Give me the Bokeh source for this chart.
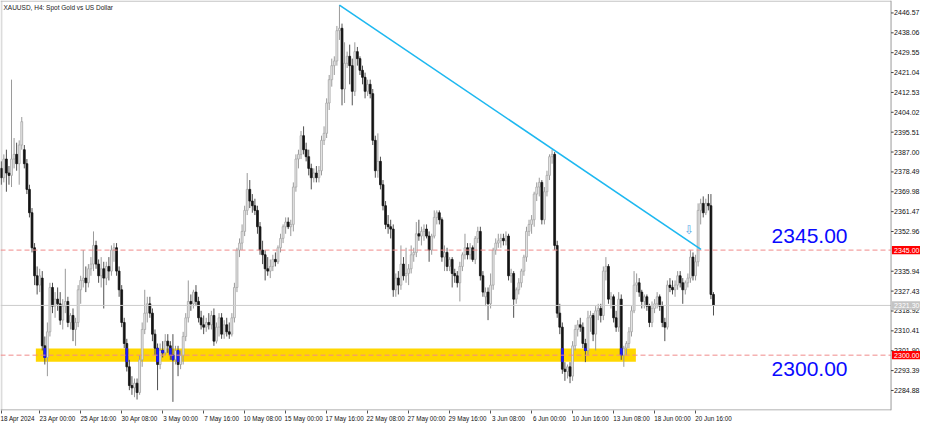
from bokeh.plotting import figure
from bokeh.models import Range1d, FixedTicker, Label, ColumnDataSource
from bokeh.core.properties import value
from bokeh.embed import file_html
from bokeh.resources import INLINE

# ---------------- data (XAUUSD H4, bar index 0 = 18 Apr 2024 12:00) ----------------
opens = [
    2380, 2376, 2384,
    2378, 2377, 2384, 2386, 2382, 2390,
    2388, 2382, 2371, 2361, 2346, 2334,
    2330, 2333, 2304, 2299, 2310, 2329,
    2321, 2324, 2322, 2315, 2321, 2323,
    2314, 2317, 2311, 2314, 2328, 2332,
    2333, 2331, 2337, 2339, 2347, 2339,
    2334, 2337, 2333, 2338, 2336, 2345,
    2346, 2336, 2328, 2314, 2305, 2295,
    2287, 2286, 2288, 2284, 2298, 2311,
    2318, 2322, 2318, 2309, 2303, 2296,
    2302, 2301, 2306, 2304, 2300, 2298,
    2302, 2296, 2300, 2308, 2316, 2323,
    2322, 2327, 2323, 2316, 2313, 2312,
    2314, 2313, 2317, 2306, 2312, 2316,
    2309, 2313, 2310, 2309, 2316, 2329,
    2345, 2348, 2353, 2362, 2371, 2366,
    2364, 2362, 2355, 2345, 2343, 2337,
    2336, 2338, 2341, 2340, 2346, 2350,
    2355, 2357, 2355, 2356, 2372, 2384,
    2386, 2394, 2388, 2385, 2380, 2376,
    2378, 2376, 2379, 2392, 2395, 2408,
    2418, 2424, 2426, 2439, 2440, 2414,
    2425, 2428, 2424, 2413, 2430, 2427,
    2422, 2419, 2413, 2416, 2412, 2392,
    2379, 2383, 2373, 2364, 2356, 2355,
    2354, 2328, 2333, 2330, 2339, 2334,
    2335, 2337, 2343, 2344, 2352, 2351,
    2353, 2354, 2351, 2345, 2351, 2359,
    2361, 2358, 2342, 2344, 2338, 2341,
    2335, 2334, 2331, 2338, 2343, 2346,
    2343, 2346, 2341, 2350, 2353, 2334,
    2325, 2327, 2322, 2330, 2345, 2348,
    2349, 2350, 2349, 2351, 2334, 2335,
    2324, 2328, 2331, 2336, 2342, 2353,
    2356, 2358, 2369, 2372, 2374, 2358,
    2370, 2377, 2385, 2386, 2347, 2318,
    2312, 2294, 2293, 2295, 2291, 2304,
    2311, 2313, 2312, 2305, 2302, 2316,
    2317, 2309, 2319, 2320, 2317, 2336,
    2338, 2324, 2325, 2316, 2312, 2324,
    2300, 2303, 2305, 2310, 2319, 2330,
    2331, 2327, 2323, 2325, 2321, 2314,
    2320, 2322, 2325, 2321, 2314, 2312,
    2330, 2329, 2328, 2330, 2334, 2331,
    2328, 2331, 2333, 2342, 2334, 2340,
    2362, 2365, 2361, 2365, 2364, 2326,
]
highs = [
    2383, 2386, 2388,
    2381, 2418, 2393, 2391, 2392, 2402,
    2390, 2384, 2373, 2363, 2348, 2338,
    2337, 2336, 2308, 2314, 2331, 2331,
    2327, 2329, 2327, 2324, 2337, 2325,
    2318, 2320, 2316, 2330, 2334, 2345,
    2338, 2339, 2342, 2353, 2349, 2341,
    2342, 2340, 2340, 2342, 2347, 2348,
    2348, 2338, 2330, 2316, 2307, 2298,
    2291, 2290, 2290, 2300, 2314, 2328,
    2325, 2325, 2320, 2311, 2305, 2305,
    2306, 2309, 2309, 2306, 2309, 2304,
    2304, 2302, 2310, 2318, 2332, 2326,
    2328, 2330, 2325, 2319, 2317, 2316,
    2318, 2319, 2320, 2314, 2318, 2318,
    2315, 2316, 2314, 2318, 2331, 2346,
    2350, 2356, 2364, 2378, 2375, 2369,
    2367, 2364, 2357, 2349, 2345, 2342,
    2341, 2343, 2344, 2347, 2352, 2356,
    2359, 2359, 2358, 2374, 2386, 2388,
    2396, 2398, 2391, 2388, 2382, 2380,
    2381, 2381, 2394, 2398, 2410, 2420,
    2427, 2428, 2441, 2450, 2442, 2434,
    2430, 2433, 2427, 2434, 2432, 2428,
    2424, 2421, 2418, 2418, 2414, 2394,
    2395, 2385, 2375, 2366, 2360, 2358,
    2356, 2335, 2336, 2347, 2342, 2346,
    2339, 2347, 2346, 2357, 2358, 2355,
    2356, 2356, 2353, 2352, 2362, 2362,
    2362, 2359, 2347, 2346, 2342, 2342,
    2337, 2336, 2340, 2344, 2352, 2348,
    2348, 2347, 2351, 2355, 2355, 2336,
    2329, 2329, 2335, 2346, 2350, 2352,
    2352, 2352, 2353, 2352, 2337, 2336,
    2329, 2333, 2337, 2343, 2355, 2358,
    2360, 2370, 2374, 2376, 2375, 2372,
    2379, 2386, 2388, 2387, 2349, 2322,
    2314, 2297, 2296, 2297, 2306, 2313,
    2315, 2316, 2314, 2307, 2319, 2319,
    2318, 2321, 2322, 2322, 2338, 2342,
    2339, 2327, 2326, 2319, 2327, 2326,
    2304, 2306, 2312, 2321, 2336, 2335,
    2333, 2328, 2326, 2326, 2322, 2323,
    2324, 2327, 2326, 2323, 2316, 2332,
    2333, 2332, 2332, 2336, 2336, 2333,
    2332, 2335, 2345, 2344, 2343, 2365,
    2367, 2368, 2367, 2369, 2369, 2327,
]
lows = [
    2373, 2374, 2370,
    2373, 2372, 2380, 2379, 2373, 2388,
    2380, 2369, 2359, 2344, 2330, 2326,
    2327, 2302, 2296, 2291, 2308, 2318,
    2316, 2319, 2313, 2311, 2318, 2312,
    2311, 2306, 2304, 2312, 2322, 2329,
    2327, 2329, 2334, 2336, 2337, 2331,
    2329, 2320, 2330, 2332, 2334, 2340,
    2334, 2325, 2312, 2303, 2293, 2285,
    2283, 2282, 2281, 2283, 2295, 2309,
    2314, 2316, 2306, 2300, 2285, 2294,
    2299, 2300, 2301, 2298, 2280, 2296,
    2291, 2294, 2296, 2306, 2314, 2319,
    2320, 2321, 2314, 2311, 2309, 2310,
    2311, 2311, 2304, 2305, 2308, 2307,
    2307, 2308, 2307, 2308, 2314, 2327,
    2342, 2345, 2351, 2360, 2363, 2361,
    2360, 2352, 2343, 2339, 2332, 2334,
    2333, 2336, 2338, 2339, 2344, 2348,
    2352, 2354, 2351, 2353, 2370, 2380,
    2384, 2386, 2383, 2377, 2371, 2374,
    2374, 2374, 2377, 2390, 2393, 2405,
    2415, 2420, 2424, 2435, 2407, 2408,
    2423, 2416, 2407, 2411, 2424, 2420,
    2416, 2410, 2411, 2410, 2390, 2376,
    2376, 2371, 2362, 2354, 2352, 2350,
    2325, 2325, 2326, 2328, 2332, 2331,
    2330, 2335, 2340, 2342, 2349, 2347,
    2349, 2350, 2340, 2343, 2350, 2356,
    2356, 2340, 2336, 2336, 2336, 2329,
    2331, 2329, 2323, 2336, 2341, 2341,
    2341, 2340, 2339, 2348, 2332, 2325,
    2321, 2315, 2320, 2328, 2343, 2346,
    2346, 2347, 2347, 2332, 2331, 2316,
    2322, 2326, 2329, 2334, 2340, 2351,
    2352, 2355, 2366, 2368, 2356, 2356,
    2368, 2375, 2382, 2345, 2316, 2309,
    2292, 2289, 2290, 2288, 2289, 2302,
    2308, 2310, 2303, 2297, 2300, 2310,
    2306, 2302, 2315, 2314, 2315, 2332,
    2322, 2320, 2314, 2310, 2310, 2298,
    2295, 2300, 2303, 2308, 2318, 2327,
    2325, 2320, 2320, 2319, 2312, 2312,
    2318, 2320, 2319, 2312, 2306, 2311,
    2327, 2326, 2325, 2328, 2329, 2322,
    2326, 2329, 2331, 2332, 2332, 2338,
    2356, 2359, 2360, 2362, 2324, 2317,
]
closes = [
    2376, 2384, 2378,
    2377, 2384, 2386, 2382, 2390, 2400,
    2382, 2371, 2361, 2346, 2334, 2330,
    2334, 2304, 2299, 2310, 2329, 2321,
    2324, 2322, 2315, 2321, 2323, 2314,
    2317, 2311, 2314, 2328, 2332, 2333,
    2331, 2337, 2339, 2347, 2339, 2334,
    2337, 2333, 2338, 2336, 2345, 2346,
    2336, 2328, 2314, 2305, 2295, 2287,
    2286, 2288, 2284, 2298, 2311, 2318,
    2322, 2318, 2309, 2303, 2296, 2302,
    2301, 2306, 2304, 2300, 2298, 2302,
    2296, 2300, 2308, 2316, 2323, 2322,
    2327, 2323, 2316, 2313, 2312, 2314,
    2313, 2317, 2306, 2312, 2316, 2309,
    2313, 2310, 2309, 2316, 2329, 2345,
    2348, 2353, 2362, 2371, 2366, 2364,
    2362, 2355, 2345, 2343, 2337, 2336,
    2338, 2341, 2340, 2346, 2350, 2355,
    2357, 2355, 2356, 2372, 2384, 2386,
    2394, 2388, 2385, 2380, 2376, 2378,
    2376, 2379, 2392, 2395, 2408, 2418,
    2424, 2426, 2439, 2440, 2414, 2425,
    2428, 2424, 2413, 2430, 2427, 2422,
    2419, 2413, 2416, 2412, 2392, 2379,
    2383, 2373, 2364, 2356, 2355, 2354,
    2328, 2333, 2330, 2339, 2334, 2335,
    2337, 2343, 2344, 2352, 2351, 2353,
    2354, 2351, 2345, 2351, 2359, 2361,
    2358, 2342, 2344, 2338, 2341, 2335,
    2334, 2331, 2338, 2343, 2346, 2343,
    2346, 2341, 2350, 2353, 2334, 2327,
    2327, 2322, 2330, 2345, 2348, 2349,
    2350, 2349, 2351, 2334, 2335, 2324,
    2328, 2331, 2336, 2342, 2353, 2356,
    2358, 2369, 2372, 2374, 2358, 2370,
    2377, 2385, 2386, 2347, 2318, 2312,
    2294, 2293, 2295, 2291, 2304, 2311,
    2313, 2312, 2305, 2302, 2316, 2317,
    2309, 2319, 2320, 2317, 2336, 2338,
    2324, 2325, 2316, 2312, 2324, 2300,
    2303, 2305, 2310, 2319, 2330, 2331,
    2327, 2323, 2325, 2321, 2314, 2320,
    2322, 2325, 2321, 2314, 2312, 2330,
    2329, 2328, 2330, 2334, 2331, 2328,
    2331, 2333, 2342, 2334, 2340, 2362,
    2365, 2361, 2365, 2364, 2326, 2321.3,
]

time_tick_bars = [0, 15, 31, 47, 63, 79, 95, 111, 127, 143, 159, 175, 191, 207, 223, 239, 255, 271]
time_tick_labels = ["18 Apr 2024", "23 Apr 00:00", "25 Apr 16:00", "30 Apr 08:00", "3 May 00:00",
                    "7 May 16:00", "10 May 08:00", "15 May 00:00", "17 May 16:00", "22 May 08:00",
                    "27 May 00:00", "29 May 16:00", "3 Jun 08:00", "6 Jun 00:00", "10 Jun 16:00",
                    "13 Jun 08:00", "18 Jun 00:00", "20 Jun 16:00"]
price_ticks = [2446.57, 2438.06, 2429.55, 2421.04, 2412.53, 2404.02, 2395.51, 2387.00, 2378.49,
               2369.98, 2361.47, 2352.96, 2335.94, 2327.43, 2318.92, 2310.41, 2301.90, 2293.39, 2284.88]
level_prices = [2345.00, 2300.00]
level_texts = ["2345.00", "2300.00"]
level_text_x = [315.5, 315.5]
level_text_y = [2351.2, 2293.9]
last_price = 2321.30
trend_x = [132, 273.1]
trend_y = [2449.9, 2345.3]
zone_left, zone_right, zone_bottom, zone_top = 13.5, 247.7, 2297.2, 2302.9
arrow_x, arrow_y = 268.5, 2353.7

# ---------------- layout constants ----------------
X0, XA, XR = -0.3, 347.3, 358.8      # left edge, price-scale line, right edge (bar units)
Y0, Y1 = 2276.3, 2451.9

p = figure(width=920, height=424, output_backend="svg", toolbar_location=None,
           x_range=Range1d(X0, XR), y_range=Range1d(Y0, Y1),
           min_border_left=0, min_border_top=0, min_border_bottom=0, min_border_right=0)
p.grid.visible = False
p.yaxis.visible = False
p.outline_line_color = None
p.background_fill_color = "white"
p.border_fill_color = "white"

# left window strip
p.quad(left=[X0], right=[X0 + 0.75], bottom=[Y0], top=[Y1], fill_color="#dcdcdc", line_color=None)

# support zone
p.quad(left=[zone_left], right=[zone_right], bottom=[zone_bottom], top=[zone_top],
       fill_color="#ffd700", line_color=None)

bars = list(range(len(closes)))
bull = [i for i in bars if closes[i] >= opens[i]]
bear = [i for i in bars if closes[i] < opens[i]]

def src(idx):
    return ColumnDataSource(dict(
        x=idx,
        high=[highs[i] for i in idx], low=[lows[i] for i in idx],
        top=[max(opens[i], closes[i]) for i in idx],
        bottom=[min(opens[i], closes[i]) for i in idx]))

sb, sr = src(bull), src(bear)
p.segment(x0="x", y0="low", x1="x", y1="high", source=sb, line_color="#9a9a9a", line_width=1)
p.segment(x0="x", y0="low", x1="x", y1="high", source=sr, line_color="#505050", line_width=1)
p.vbar(x="x", width=0.72, top="top", bottom="bottom", source=sb,
       fill_color="#ececec", line_color="#a6a6a6", line_width=0.8)
p.vbar(x="x", width=0.72, top="top", bottom="bottom", source=sr,
       fill_color="#141414", line_color="#141414", line_width=0.8)

# bear bodies crossing the zone appear blue (XOR look)
bx, bt, bb = [], [], []
for i in bear:
    t = min(opens[i], zone_top)
    b = max(closes[i], zone_bottom)
    if t > b:
        bx.append(i); bt.append(t); bb.append(b)
p.vbar(x=bx, width=0.72, top=bt, bottom=bb, fill_color="#1c1cff", line_color="#1c1cff", line_width=0.8)

# horizontal lines (stop at the price scale)
p.segment(x0=[X0], y0=[last_price], x1=[XA], y1=[last_price], line_color="#cccccc", line_width=1)
p.segment(x0=[X0] * len(level_prices), y0=level_prices, x1=[XA] * len(level_prices), y1=level_prices,
          line_color="#f08a8a", line_width=1, line_dash="5 3")
p.line(trend_x, trend_y, line_color="#1eb8f0", line_width=1.6)

# frame lines: top, bottom, price-scale line
p.segment(x0=[X0], y0=[Y1 - 0.25], x1=[XA], y1=[Y1 - 0.25], line_color="#b4b4b4", line_width=1)
p.segment(x0=[X0], y0=[Y0 + 0.22], x1=[XA], y1=[Y0 + 0.22], line_color="#9a9a9a", line_width=1)
p.segment(x0=[XA], y0=[Y0], x1=[XA], y1=[Y1], line_color="#9a9a9a", line_width=1)

# big texts
p.text(x=level_text_x, y=level_text_y, text=level_texts, text_font=value("Liberation Sans"),
       text_font_size="21px", text_color="#0a0aff", text_align="center", text_baseline="middle")

# arrow marker
p.text(x=[arrow_x], y=[arrow_y], text=["⇩"], text_font=value("DejaVu Sans"), text_font_size="12px",
       text_color="#5aa6e6", text_align="center", text_baseline="middle")

# title
p.add_layout(Label(x=X0, y=Y1, x_offset=3, y_offset=-3, text="XAUUSD, H4:  Spot Gold vs US Dollar",
                   text_font="Liberation Sans", text_font_size="6.5px", text_color="#222222",
                   text_baseline="top", text_align="left"))

# price scale (drawn inside the canvas area right of the scale line)
p.segment(x0=[XA] * len(price_ticks), y0=price_ticks, x1=[XA + 1.0] * len(price_ticks), y1=price_ticks,
          line_color="#444444", line_width=1)
p.text(x=[XA + 1.2] * len(price_ticks), y=price_ticks, text=["%.2f" % t for t in price_ticks],
       text_font=value("Liberation Sans"), text_font_size="7px", text_color="#111111",
       text_align="left", text_baseline="middle")

# price tags
tag_prices = level_prices + [last_price]
tag_colors = ["#ff0000", "#ff0000", "#c4c4c4"]
p.quad(left=[XA + 0.35] * 3, right=[XR] * 3, bottom=[v - 1.8 for v in tag_prices],
       top=[v + 1.8 for v in tag_prices], fill_color=tag_colors, line_color=None)
p.text(x=[XA + 1.2] * 3, y=tag_prices, text=["%.2f" % v for v in tag_prices],
       text_font=value("Liberation Sans"), text_font_size="7px", text_color="white",
       text_align="left", text_baseline="middle")

# time axis
xax = p.xaxis[0]
label_shift = [6] + [7] * (len(time_tick_bars) - 1)
centers = [b + s for b, s in zip(time_tick_bars, label_shift)]
xax.ticker = FixedTicker(ticks=centers, minor_ticks=time_tick_bars)
xax.major_label_overrides = {c: t for c, t in zip(centers, time_tick_labels)}
xax.major_label_text_font = "Liberation Sans"
xax.major_label_text_font_size = "6.3px"
xax.major_label_text_color = "#111111"
xax.major_tick_out = 0
xax.major_tick_in = 0
xax.minor_tick_out = 3
xax.minor_tick_in = 0
xax.minor_tick_line_color = "#555555"
xax.major_label_standoff = 1
xax.axis_line_color = None

open("out.html", "w").write(file_html(p, INLINE))
